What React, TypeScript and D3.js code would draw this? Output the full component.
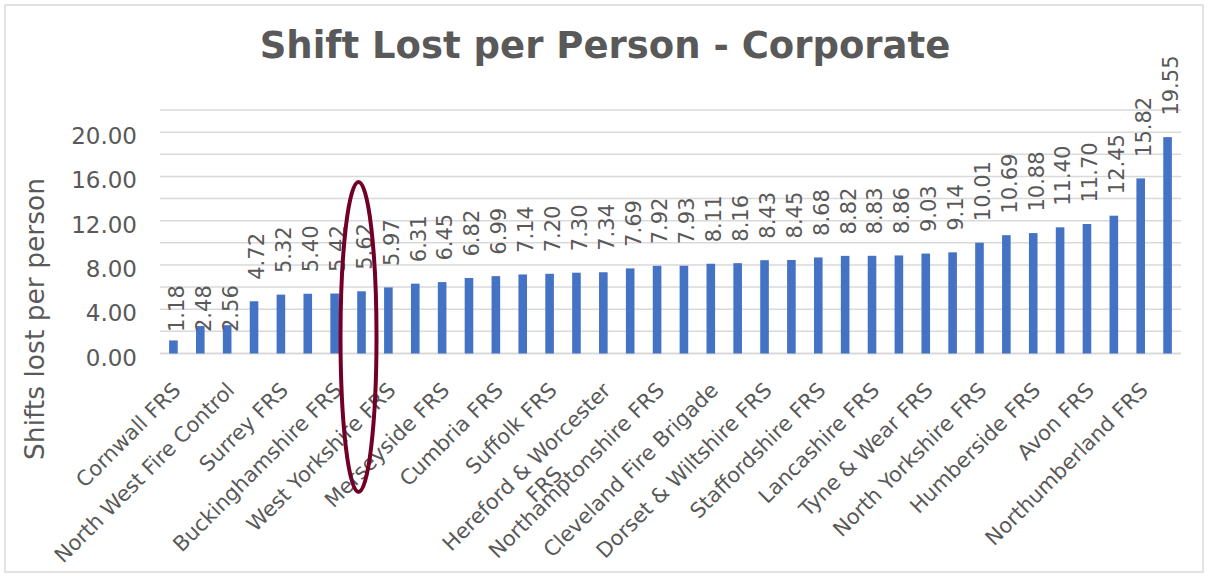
import React, { useEffect, useRef } from 'react';
import * as d3 from 'd3';

// Shifts lost per person, sorted ascending (one bar per service)
const values = [
  1.18, 2.48, 2.56, 4.72, 5.32, 5.4, 5.42, 5.62, 5.97, 6.31, 6.45, 6.82, 6.99,
  7.14, 7.2, 7.3, 7.34, 7.69, 7.92, 7.93, 8.11, 8.16, 8.43, 8.45, 8.68, 8.82,
  8.83, 8.86, 9.03, 9.14, 10.01, 10.69, 10.88, 11.4, 11.7, 12.45, 15.82, 19.55,
];

// Excel only shows every second category label
const tickLabels = [
  'Cornwall FRS', 'North West Fire Control', 'Surrey FRS', 'Buckinghamshire FRS',
  'West Yorkshire FRS', 'Merseyside FRS', 'Cumbria FRS', 'Suffolk FRS',
  'Hereford & Worcester FRS', 'Northamptonshire FRS', 'Cleveland Fire Brigade',
  'Dorset & Wiltshire FRS', 'Staffordshire FRS', 'Lancashire FRS', 'Tyne & Wear FRS',
  'North Yorkshire FRS', 'Humberside FRS', 'Avon FRS', 'Northumberland FRS',
];

const yTicks = [0, 4, 8, 12, 16, 20];
const highlightIndex = 7;

const W = 1208;
const H = 577;
const FONT = '"DejaVu Sans", Verdana, sans-serif';
const TEXT = '#595959';

const App: React.FC = () => {
  const svgRef = useRef<SVGSVGElement>(null);

  useEffect(() => {
    if (!svgRef.current) return;
    const svg = d3.select(svgRef.current);
    svg.selectAll('*').remove();

    const x = d3.scaleBand<number>()
      .domain(d3.range(values.length))
      .range([160, 1181])
      .paddingInner(0.68)
      .paddingOuter(0.34);
    const y = d3.scaleLinear().domain([0, 22]).range([353.5, 110]);

    // chart border
    svg.append('rect')
      .attr('x', 5).attr('y', 5)
      .attr('width', W - 10).attr('height', H - 10)
      .attr('fill', '#fff')
      .attr('stroke', '#d9d9d9')
      .attr('stroke-width', 1.5);

    svg.append('text')
      .attr('x', 605).attr('y', 58)
      .attr('text-anchor', 'middle')
      .attr('font-family', FONT)
      .attr('font-weight', 'bold')
      .attr('font-size', 37)
      .attr('fill', TEXT)
      .text('Shift Lost per Person - Corporate');

    // gridlines every 2
    svg.append('g')
      .selectAll('line')
      .data(d3.range(0, 23, 2))
      .enter()
      .append('line')
      .attr('x1', 160).attr('x2', 1181)
      .attr('y1', d => y(d)).attr('y2', d => y(d))
      .attr('stroke', '#d9d9d9')
      .attr('stroke-width', d => (d === 0 ? 2 : 1.5));

    svg.append('g')
      .selectAll('text')
      .data(yTicks)
      .enter()
      .append('text')
      .attr('x', 137)
      .attr('y', d => y(d) + 4)
      .attr('dy', '0.35em')
      .attr('text-anchor', 'end')
      .attr('font-family', FONT)
      .attr('font-size', 23)
      .attr('fill', TEXT)
      .text(d => d.toFixed(2));

    svg.append('text')
      .attr('transform', 'translate(35,319) rotate(-90)')
      .attr('dy', '0.35em')
      .attr('text-anchor', 'middle')
      .attr('font-family', FONT)
      .attr('font-size', 26.5)
      .attr('fill', TEXT)
      .text('Shifts lost per person');

    // bars
    svg.append('g')
      .selectAll('rect')
      .data(values)
      .enter()
      .append('rect')
      .attr('x', (_, i) => x(i)!)
      .attr('y', d => y(d))
      .attr('width', x.bandwidth())
      .attr('height', d => y(0) - y(d))
      .attr('fill', '#4472c4');

    // value labels (the smallest ones sit at the floor position)
    svg.append('g')
      .selectAll('text')
      .data(values)
      .enter()
      .append('text')
      .attr('transform', (d, i) => {
        const cx = x(i)! + x.bandwidth() / 2 + 3;
        const base = (d < 3 ? y(0) : y(d)) - 21.5;
        return `translate(${cx},${base}) rotate(-90)`;
      })
      .attr('dy', '0.35em')
      .attr('font-family', FONT)
      .attr('font-size', 21)
      .attr('fill', TEXT)
      .text(d => d.toFixed(2));

    // category labels at every second bar
    const lh = 25;
    const xl = svg.append('g');
    tickLabels.forEach((label, k) => {
      const i = k * 2;
      const cx = x(i)! + x.bandwidth() / 2;
      let lines = [label];
      if (label.length > 23) {
        const cut = label.lastIndexOf(' ');
        lines = [label.slice(0, cut), label.slice(cut + 1)];
      }
      const g = xl.append('g')
        .attr('transform', `translate(${cx - 2},${381}) rotate(-45)`);
      const t = g.append('text')
        .attr('text-anchor', 'end')
        .attr('dy', '0.71em')
        .attr('font-family', FONT)
        .attr('font-size', 21)
        .attr('fill', TEXT)
        .text(lines[0]);
      if (lines.length > 1) {
        const w = (t.node() as SVGTextElement).getComputedTextLength();
        g.append('text')
          .attr('x', -w / 2)
          .attr('y', lh)
          .attr('text-anchor', 'middle')
          .attr('dy', '0.71em')
          .attr('font-family', FONT)
          .attr('font-size', 21)
          .attr('fill', TEXT)
          .text(lines[1]);
      }
    });

    // highlight ring around one bar
    svg.append('ellipse')
      .attr('cx', x(highlightIndex)! + x.bandwidth() / 2 - 3)
      .attr('cy', 337)
      .attr('rx', 18)
      .attr('ry', 155)
      .attr('fill', 'none')
      .attr('stroke', '#720026')
      .attr('stroke-width', 4);
  }, []);

  return (
    <svg
      ref={svgRef}
      width={W}
      height={H}
      style={{ position: 'absolute', left: 0, top: 0, display: 'block' }}
    />
  );
};

export default App;
